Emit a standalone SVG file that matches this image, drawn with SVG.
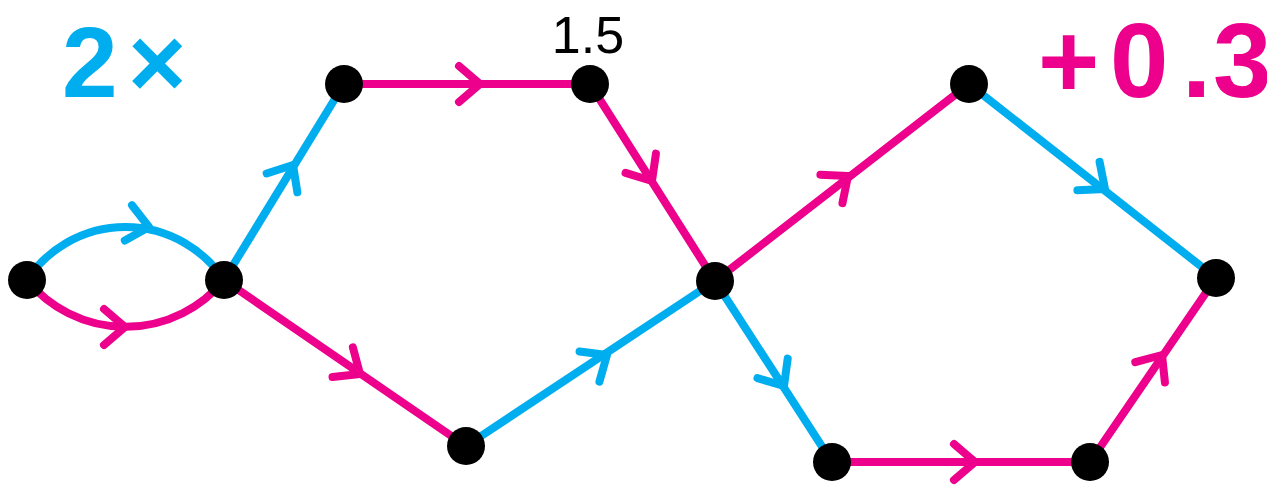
<svg xmlns="http://www.w3.org/2000/svg" width="1267" height="487" viewBox="0 0 1267 487">
  <style>
    .edge { fill: none; stroke-width: 8; stroke-linecap: round; stroke-linejoin: round; }
    .blue { stroke: #00AEEF; }
    .pink { stroke: #EC008C; }
    .node { fill: #000000; }
    .label { font-family: "Liberation Sans", "DejaVu Sans", sans-serif; font-weight: 700; }
    .weight { font-family: "Liberation Sans", "DejaVu Sans", sans-serif; font-weight: 400; }
  </style>
  <defs>
    <!-- open chevron arrowhead, tip at the origin, pointing along +x -->
    <path id="chev" d="M -21 -18 L 0 0 L -21 18" fill="none" stroke-width="8" stroke-linecap="round" stroke-linejoin="round"/>
  </defs>

  <rect width="1267" height="487" fill="#ffffff"/>

  <g id="connectors">
    <path class="edge blue" d="M 27 280 A 118 118 0 0 1 224 280"/>
    <path class="edge pink" d="M 27 280 A 127 127 0 0 0 224 280"/>
    <path class="edge blue" d="M 224 280 L 344 84"/>
    <path class="edge pink" d="M 344 84 L 590 84"/>
    <path class="edge pink" d="M 590 84 L 715 281"/>
    <path class="edge pink" d="M 224 280 L 466 446"/>
    <path class="edge blue" d="M 466 446 L 715 281"/>
    <path class="edge pink" d="M 715 281 L 969 84"/>
    <path class="edge blue" d="M 969 84 L 1216 278"/>
    <path class="edge blue" d="M 715 281 L 832 462"/>
    <path class="edge pink" d="M 832 462 L 1090 462"/>
    <path class="edge pink" d="M 1090 462 L 1216 278"/>

    <use href="#chev" class="blue" transform="translate(149 227) rotate(11.5)"/>
    <use href="#chev" class="pink" transform="translate(125 327) rotate(0)"/>
    <use href="#chev" class="blue" transform="translate(293 165) rotate(-58.5)"/>
    <use href="#chev" class="pink" transform="translate(480 84)"/>
    <use href="#chev" class="pink" transform="translate(652 181) rotate(57.6)"/>
    <use href="#chev" class="pink" transform="translate(360 374) rotate(34.4)"/>
    <use href="#chev" class="blue" transform="translate(607 355) rotate(-33.5)"/>
    <use href="#chev" class="pink" transform="translate(848 176) rotate(-37.8)"/>
    <use href="#chev" class="blue" transform="translate(1105 189) rotate(38.1)"/>
    <use href="#chev" class="blue" transform="translate(784 386) rotate(57.1)"/>
    <use href="#chev" class="pink" transform="translate(975 462)"/>
    <use href="#chev" class="pink" transform="translate(1162 355) rotate(-55.5)"/>
  </g>

  <g id="node-a"><circle class="node" cx="27" cy="280" r="19"/></g>
  <g id="node-b"><circle class="node" cx="224" cy="280" r="19"/></g>
  <g id="node-c"><circle class="node" cx="344" cy="84" r="19"/></g>
  <g id="node-d"><circle class="node" cx="590" cy="84" r="19"/></g>
  <g id="node-e"><circle class="node" cx="715" cy="281" r="19"/></g>
  <g id="node-f"><circle class="node" cx="466" cy="446" r="19"/></g>
  <g id="node-g"><circle class="node" cx="969" cy="84" r="19"/></g>
  <g id="node-h"><circle class="node" cx="1216" cy="278" r="19"/></g>
  <g id="node-i"><circle class="node" cx="832" cy="462" r="19"/></g>
  <g id="node-j"><circle class="node" cx="1090" cy="462" r="19"/></g>

  <g id="labels">
    <text class="label" fill="#00AEEF" font-size="100" y="97"><tspan x="62">2</tspan><tspan x="128">×</tspan></text>
    <text class="weight" fill="#000000" font-size="52" x="588" y="53" text-anchor="middle">1.5</text>
    <text class="label" fill="#EC008C" font-size="105" y="97"><tspan x="1038">+</tspan><tspan x="1110">0</tspan><tspan x="1182">.</tspan><tspan x="1213">3</tspan></text>
  </g>
</svg>
